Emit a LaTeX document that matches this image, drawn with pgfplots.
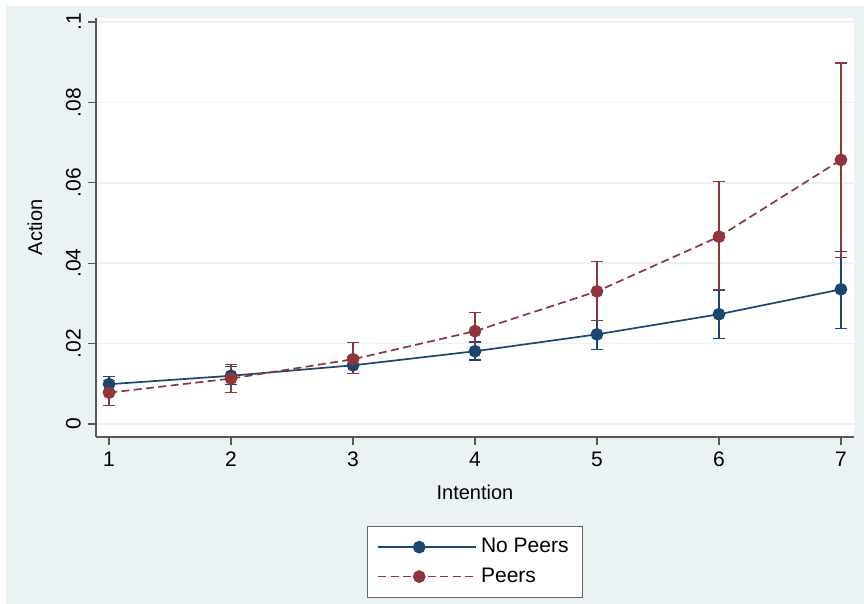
\documentclass[border=0pt]{standalone}
\usepackage{fontspec}
\setmainfont{Liberation Sans}
\usepackage{pgfplots}
\pgfplotsset{compat=1.18}
\definecolor{stnavy}{RGB}{26,71,111}
\definecolor{stmaroon}{RGB}{144,53,59}
\definecolor{stbg}{RGB}{234,242,243}
\newcommand{\lblfont}{\fontsize{10.5}{12.6}\selectfont}

\begin{document}
\begin{tikzpicture}
\useasboundingbox (0,0) rectangle (432pt,302pt);
\fill[white] (0,0) rectangle (432pt,302pt);
\fill[stbg] (3pt,0) rectangle (432pt,299pt);
\begin{axis}[
    at={(48pt,83.5pt)}, anchor=south west,
    scale only axis, width=379pt, height=209.5pt,
    xmin=0.893, xmax=7.107,
    ymin=-0.00323, ymax=0.101,
    axis background/.style={fill=white},
    axis x line*=bottom, axis y line*=left,
    axis line style={black!65, line width=0.6pt, -},
    tick align=outside, major tick length=4pt,
    tick style={black!65, line width=0.6pt},
    xtick={1,2,3,4,5,6,7},
    ytick={0,0.02,0.04,0.06,0.08,0.1},
    yticklabels={0,.02,.04,.06,.08,.1},
    /pgf/number format/assume math mode=true,
    tick label style={font=\lblfont},
    yticklabel style={rotate=90, anchor=south},
    ymajorgrids, grid style={stbg, line width=0.8pt},
    xlabel={Intention}, ylabel={Action},
    label style={font=\lblfont},
    every axis x label/.style={at={(axis description cs:0.5,-0.131)}, anchor=center},
    every axis y label/.style={at={(axis description cs:-0.0805,0.5)}, rotate=90, anchor=center},
    legend style={at={(0.5,-0.298)}, anchor=center, draw=black!60, fill=white,
        font=\lblfont, row sep=2pt, inner xsep=5pt, inner ysep=4pt},
    legend cell align=left,
    legend image code/.code={
        \path (0pt,0pt) -- (49pt,0pt);
        \draw[#1] (0pt,0pt) -- (41pt,0pt);
        \draw[#1, mark repeat=2, mark phase=2] plot coordinates {(0pt,0pt) (20.5pt,0pt) (41pt,0pt)};
    },
]

% No Peers
\addplot[stnavy, line width=0.85pt, mark=*, mark size=2.75pt,
    error bars/.cd, y dir=both, y explicit, error mark=-,
    error mark options={rotate=90, mark size=3pt, line width=0.6pt},
    error bar style={line width=0.6pt, solid}]
coordinates {
    (1,0.0099) += (0,0.0019) -= (0,0.0016)
    (2,0.0120) += (0,0.0024) -= (0,0.0021)
    (3,0.0146) += (0,0.0021) -= (0,0.0021)
    (4,0.0181) += (0,0.0023) -= (0,0.0022)
    (5,0.0223) += (0,0.0035) -= (0,0.0037)
    (6,0.0273) += (0,0.0059) -= (0,0.0060)
    (7,0.0335) += (0,0.0094) -= (0,0.0097)
};
\addlegendentry{No Peers}

% Peers
\addplot[stmaroon, line width=0.85pt, dash pattern=on 4pt off 2.2pt,
    mark=*, mark size=2.75pt, mark options={solid},
    error bars/.cd, y dir=both, y explicit, error mark=-,
    error mark options={rotate=90, mark size=3pt, line width=0.6pt, solid},
    error bar style={line width=0.6pt, solid}]
coordinates {
    (1,0.0078) += (0,0.0030) -= (0,0.0031)
    (2,0.0113) += (0,0.0035) -= (0,0.0035)
    (3,0.0161) += (0,0.0041) -= (0,0.0035)
    (4,0.0231) += (0,0.0046) -= (0,0.0045)
    (5,0.0330) += (0,0.0074) -= (0,0.0072)
    (6,0.0466) += (0,0.0137) -= (0,0.0131)
    (7,0.0657) += (0,0.0241) -= (0,0.0243)
};
\addlegendentry{Peers}

\end{axis}
\end{tikzpicture}
\end{document}
